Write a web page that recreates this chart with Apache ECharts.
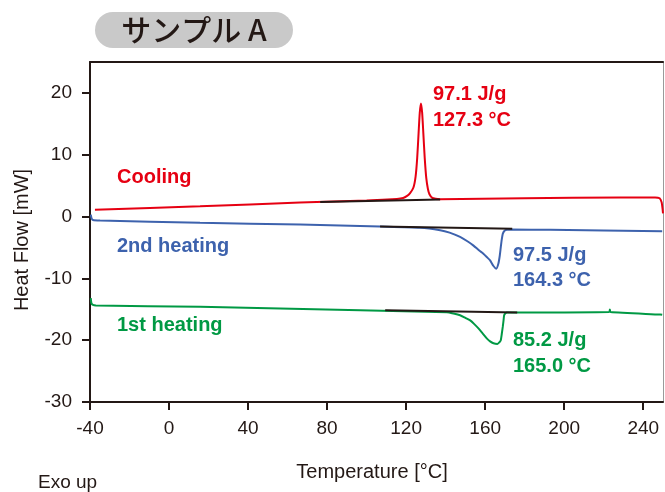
<!DOCTYPE html>
<html>
<head>
<meta charset="utf-8">
<script src="https://cdn.jsdelivr.net/npm/echarts@6/dist/echarts.min.js"></script>
<style>
html,body{margin:0;padding:0;background:#fff;}
#c{width:665px;height:492px;}
</style>
</head>
<body>
<div id="c"></div>
<script>
// Tick labels
const xTicks = [-40, 0, 40, 80, 120, 160, 200, 240];
const yTicks = [-30, -20, -10, 0, 10, 20];

// Cooling (red)
const coolingT = [-37.5, 15.7, 66.3, 100, 115.3, 118.5, 120.3, 122, 123.7, 124.8, 125.6, 126.3, 126.9, 127.5, 128.1, 128.7, 129.4, 130.2, 131, 131.8, 133.3, 137.2, 180, 228.4, 246, 248.3, 249.3, 249.8, 250];
const coolingH = [1.08, 1.66, 2.26, 2.6, 2.85, 3.0, 3.3, 3.8, 4.7, 6.5, 9.5, 13.5, 16.8, 18.3, 16.8, 13.5, 9.5, 6.2, 4.5, 3.6, 3.0, 2.8, 2.95, 3.1, 3.1, 2.95, 2.3, 1.2, 0.5];

// 2nd heating (blue)
const heat2T = [-39.6, -39.2, -38.5, -34.9, 15.7, 66.3, 106.8, 127, 137.2, 142, 147.3, 151, 154.1, 157, 159.1, 161, 162.5, 164.2, 165.6, 166.7, 167.4, 167.9, 168.4, 168.9, 169.8, 171, 173.5, 192.9, 249.6];
const heat2H = [0.3, -0.3, -0.56, -0.65, -1.02, -1.29, -1.61, -1.8, -2.2, -2.6, -3.3, -4.0, -4.7, -5.5, -6.0, -6.6, -7.1, -8.0, -8.44, -7.6, -6.3, -4.95, -3.7, -2.8, -2.3, -2.15, -2.1, -2.15, -2.37];

// 1st heating (green)
const heat1T = [-39.6, -39.3, -38.5, -37, 15.7, 96.7, 140.6, 144, 147.3, 150, 152.4, 154.5, 156.6, 158.7, 160.8, 162.5, 164.2, 166.2, 167.3, 167.9, 168.4, 168.9, 169.3, 169.6, 170.3, 171, 176, 222.8, 223.1, 223.4, 248.6, 249.6];
const heat1H = [-13.2, -14.0, -14.3, -14.4, -14.6, -15.16, -15.5, -15.7, -15.97, -16.4, -16.8, -17.4, -18.1, -18.9, -19.7, -20.2, -20.5, -20.6, -20.3, -20.0, -19.0, -17.85, -16.8, -15.97, -15.65, -15.53, -15.53, -15.45, -15.05, -15.45, -15.85, -15.9];

// Integration baselines
const coolingBaseT = [76.5, 137.2];
const coolingBaseH = [2.34, 2.77];
const heat2BaseT = [106.8, 173.7];
const heat2BaseH = [-1.61, -1.98];
const heat1BaseT = [109.4, 176.2];
const heat1BaseH = [-15.16, -15.53];

const RED = '#e60012', BLUE = '#3d62ad', GREEN = '#009944', DARK = '#231815';
const zip = (a, b) => a.map((v, i) => [v, b[i]]);

const chart = echarts.init(document.getElementById('c'));
const FONT = '"Liberation Sans", Arial, sans-serif';

function line(name, t, h, color, w, z) {
  return { name, type: 'line', data: zip(t, h), showSymbol: false, symbol: 'none',
    lineStyle: { color, width: w }, itemStyle: { color }, smooth: 0.2, z: z || 2, animation: false };
}

chart.setOption({
  animation: false,
  grid: { left: 90, top: 62, width: 573, height: 340 },
  xAxis: [{
    type: 'value', min: -40, max: 250, interval: 40, position: 'bottom',
    splitLine: { show: false },
    axisLine: { show: true, onZero: false, lineStyle: { color: DARK, width: 2 } },
    axisTick: { show: true, length: 8, inside: false, customValues: xTicks, lineStyle: { color: DARK, width: 2 } },
    axisLabel: { customValues: xTicks, margin: 17, color: DARK, fontSize: 19, fontFamily: FONT }
  }, {
    type: 'value', min: -40, max: 250, position: 'top',
    splitLine: { show: false },
    axisLine: { show: true, onZero: false, lineStyle: { color: DARK, width: 2 } },
    axisTick: { show: false }, axisLabel: { show: false }
  }],
  yAxis: [{
    type: 'value', min: -30, max: 25, interval: 10, position: 'left',
    splitLine: { show: false },
    axisLine: { show: true, onZero: false, lineStyle: { color: DARK, width: 2 } },
    axisTick: { show: true, length: 8, customValues: yTicks, lineStyle: { color: DARK, width: 2 } },
    axisLabel: { customValues: yTicks, margin: 18, color: DARK, fontSize: 19, fontFamily: FONT }
  }, {
    type: 'value', min: -30, max: 25, position: 'right',
    splitLine: { show: false },
    axisLine: { show: true, onZero: false, lineStyle: { color: '#9a9a9a', width: 1 } },
    axisTick: { show: false }, axisLabel: { show: false }
  }],
  series: [
    line('Cooling', coolingT, coolingH, RED, 2),
    line('2nd heating', heat2T, heat2H, BLUE, 2),
    line('1st heating', heat1T, heat1H, GREEN, 2),
    line('base1', coolingBaseT, coolingBaseH, DARK, 2, 5),
    line('base2', heat2BaseT, heat2BaseH, DARK, 2, 5),
    line('base3', heat1BaseT, heat1BaseH, DARK, 2, 5)
  ],
  graphic: [
    { type: 'rect', shape: { x: 95, y: 12, width: 198, height: 36, r: 18 }, style: { fill: '#c9c9c9' } },
    { type: 'text', x: 194, y: 30, style: { text: 'サンプル A', fill: DARK, font: '500 30px "Noto Sans CJK JP", sans-serif', textAlign: 'center', textVerticalAlign: 'middle' } },
    { type: 'text', x: 22, y: 240, rotation: Math.PI / 2, style: { text: 'Heat Flow [mW]', fill: DARK, font: '20px ' + FONT, textAlign: 'center', textVerticalAlign: 'middle' } },
    { type: 'text', x: 372, y: 472, style: { text: 'Temperature [°C]', fill: DARK, font: '20px ' + FONT, textAlign: 'center', textVerticalAlign: 'middle' } },
    { type: 'text', x: 38, y: 483, style: { text: 'Exo up', fill: DARK, font: '19px ' + FONT, textAlign: 'left', textVerticalAlign: 'middle' } },
    { type: 'text', x: 117, y: 177, style: { text: 'Cooling', fill: RED, font: 'bold 20px ' + FONT, textAlign: 'left', textVerticalAlign: 'middle' } },
    { type: 'text', x: 117, y: 246, style: { text: '2nd heating', fill: BLUE, font: 'bold 20px ' + FONT, textAlign: 'left', textVerticalAlign: 'middle' } },
    { type: 'text', x: 117, y: 325, style: { text: '1st heating', fill: GREEN, font: 'bold 20px ' + FONT, textAlign: 'left', textVerticalAlign: 'middle' } },
    { type: 'text', x: 433, y: 94, style: { text: '97.1 J/g', fill: RED, font: 'bold 20px ' + FONT, textAlign: 'left', textVerticalAlign: 'middle' } },
    { type: 'text', x: 433, y: 120, style: { text: '127.3 °C', fill: RED, font: 'bold 20px ' + FONT, textAlign: 'left', textVerticalAlign: 'middle' } },
    { type: 'text', x: 513, y: 255, style: { text: '97.5 J/g', fill: BLUE, font: 'bold 20px ' + FONT, textAlign: 'left', textVerticalAlign: 'middle' } },
    { type: 'text', x: 513, y: 280, style: { text: '164.3 °C', fill: BLUE, font: 'bold 20px ' + FONT, textAlign: 'left', textVerticalAlign: 'middle' } },
    { type: 'text', x: 513, y: 340, style: { text: '85.2 J/g', fill: GREEN, font: 'bold 20px ' + FONT, textAlign: 'left', textVerticalAlign: 'middle' } },
    { type: 'text', x: 513, y: 366, style: { text: '165.0 °C', fill: GREEN, font: 'bold 20px ' + FONT, textAlign: 'left', textVerticalAlign: 'middle' } }
  ]
});
</script>
</body>
</html>
